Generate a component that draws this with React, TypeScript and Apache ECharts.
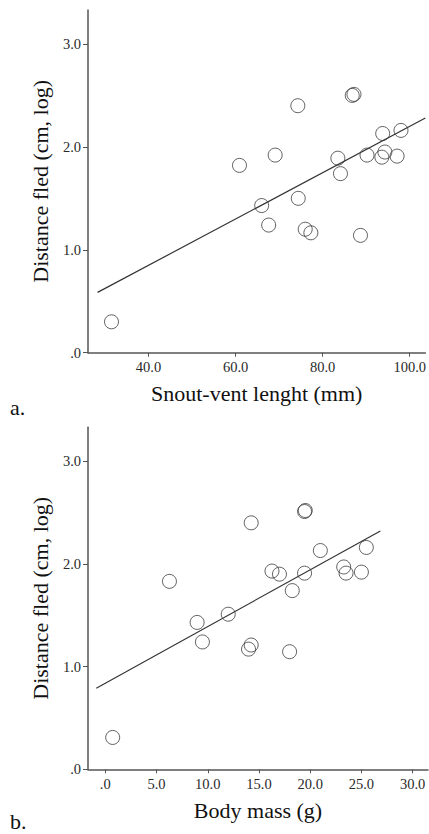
import React, { useEffect, useRef } from "react";
import * as echarts from "echarts";

// Panel a: snout-vent length (mm) vs distance fled (cm, log)
const svlX = [60.9, 69.1, 74.3, 86.8, 87.2, 83.5, 84.1, 90.2, 93.8, 93.6, 94.3, 97.1, 98.0, 74.4, 66.0, 67.6, 76.0, 77.3, 88.7, 31.5];
const svlY = [1.82, 1.92, 2.40, 2.50, 2.51, 1.89, 1.74, 1.92, 2.13, 1.90, 1.95, 1.91, 2.16, 1.50, 1.43, 1.24, 1.20, 1.165, 1.14, 0.30];
const svlFitX = [28.3, 103.6];
const svlFitY = [0.586, 2.28];
const svlTicks = [40, 60, 80, 100];

// Panel b: body mass (g) vs distance fled (cm, log)
const massX = [6.26, 14.24, 19.45, 19.52, 20.99, 16.27, 17.0, 19.45, 18.25, 23.27, 23.5, 25.0, 25.48, 12.0, 8.96, 9.48, 13.98, 14.24, 17.99, 0.72];
const massY = [1.83, 2.40, 2.51, 2.52, 2.13, 1.93, 1.90, 1.91, 1.74, 1.97, 1.91, 1.92, 2.16, 1.51, 1.43, 1.24, 1.17, 1.21, 1.145, 0.31];
const massFitX = [-0.88, 26.85];
const massFitY = [0.79, 2.32];
const massTicks = [0, 5, 10, 15, 20, 25, 30];

const yTicks = [0, 1, 2, 3];

const FONT = "'Liberation Serif', 'Times New Roman', serif";
const AXIS_COLOR = "#555";
const TEXT_COLOR = "#2a2a2a";

const fmt = (v: number) => v.toFixed(1).replace(/^0\./, ".");

function xAxisDef(gridIndex: number, min: number, max: number, ticks: number[], name: string) {
  return {
    type: "value",
    gridIndex,
    min,
    max,
    name,
    nameLocation: "middle",
    nameGap: 30,
    nameTextStyle: { fontFamily: FONT, fontSize: 22, color: "#111" },
    axisLine: { show: true, onZero: false, lineStyle: { color: AXIS_COLOR, width: 1.5 } },
    axisTick: { show: true, length: 4, customValues: ticks, lineStyle: { color: AXIS_COLOR, width: 1 } },
    axisLabel: {
      customValues: ticks,
      formatter: fmt,
      margin: 7,
      fontFamily: FONT,
      fontSize: 14.5,
      color: TEXT_COLOR,
    },
    splitLine: { show: false },
  };
}

function yAxisDef(gridIndex: number) {
  return {
    type: "value",
    gridIndex,
    min: 0,
    max: 3.33,
    name: "Distance fled (cm, log)",
    nameLocation: "middle",
    nameGap: 32,
    nameTextStyle: { fontFamily: FONT, fontSize: 22, color: "#111" },
    axisLine: { show: true, onZero: false, lineStyle: { color: AXIS_COLOR, width: 1.5 } },
    axisTick: { show: true, length: 5, customValues: yTicks, lineStyle: { color: AXIS_COLOR, width: 1 } },
    axisLabel: {
      customValues: yTicks,
      formatter: fmt,
      margin: 7,
      fontFamily: FONT,
      fontSize: 14.5,
      color: TEXT_COLOR,
    },
    splitLine: { show: false },
  };
}

const circleStyle = { color: "transparent", borderColor: "#3a3a3a", borderWidth: 1 };

export default function App() {
  const ref = useRef<HTMLDivElement>(null);
  useEffect(() => {
    if (!ref.current) return;
    const chart = echarts.init(ref.current, null, { renderer: "svg" });
    chart.setOption({
      animation: false,
      backgroundColor: "#fff",
      grid: [
        { left: 88, top: 10, width: 340, height: 342.7 },
        { left: 88, top: 427.3, width: 340, height: 342 },
      ],
      xAxis: [
        xAxisDef(0, 26.1, 103.6, svlTicks, "Snout-vent lenght (mm)"),
        xAxisDef(1, -1.69, 31.5, massTicks, "Body mass (g)"),
      ],
      yAxis: [yAxisDef(0), yAxisDef(1)],
      graphic: [
        { type: "text", left: 10, top: 396, style: { text: "a.", fontFamily: FONT, fontSize: 22, fill: "#111" } },
        { type: "text", left: 10, top: 810, style: { text: "b.", fontFamily: FONT, fontSize: 22, fill: "#111" } },
      ],
      series: [
        {
          type: "line",
          xAxisIndex: 0,
          yAxisIndex: 0,
          data: svlFitX.map((x, i) => [x, svlFitY[i]]),
          showSymbol: false,
          lineStyle: { color: "#333", width: 1.2 },
          z: 1,
        },
        {
          type: "scatter",
          xAxisIndex: 0,
          yAxisIndex: 0,
          data: svlX.map((x, i) => [x, svlY[i]]),
          symbol: "circle",
          symbolSize: 14,
          itemStyle: circleStyle,
          z: 2,
        },
        {
          type: "line",
          xAxisIndex: 1,
          yAxisIndex: 1,
          data: massFitX.map((x, i) => [x, massFitY[i]]),
          showSymbol: false,
          lineStyle: { color: "#333", width: 1.2 },
          z: 1,
        },
        {
          type: "scatter",
          xAxisIndex: 1,
          yAxisIndex: 1,
          data: massX.map((x, i) => [x, massY[i]]),
          symbol: "circle",
          symbolSize: 14,
          itemStyle: circleStyle,
          z: 2,
        },
      ],
    });
    return () => chart.dispose();
  }, []);
  return (
    <div
      ref={ref}
      style={{ position: "absolute", left: 0, top: 0, width: 429, height: 834 }}
    />
  );
}
